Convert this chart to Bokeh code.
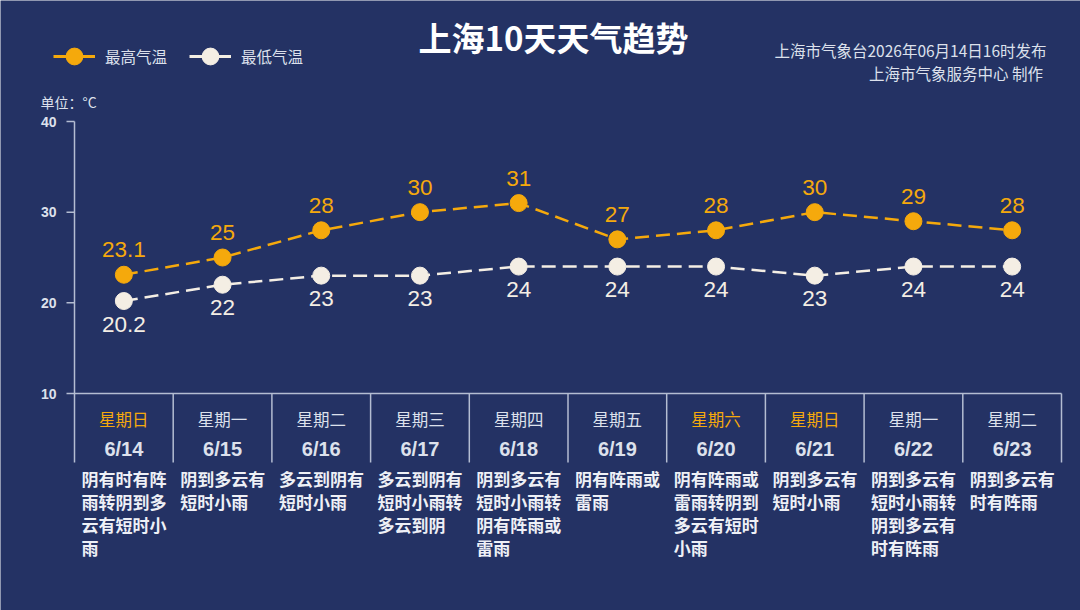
from bokeh.plotting import figure
from bokeh.models import Range1d, ColumnDataSource, Legend, LegendItem
from bokeh.core.properties import value
from bokeh.embed import file_html
from bokeh.resources import INLINE

# ---------------- data ----------------
weekdays = ["星期日", "星期一", "星期二", "星期三", "星期四", "星期五", "星期六", "星期日", "星期一", "星期二"]
dates = ["6/14", "6/15", "6/16", "6/17", "6/18", "6/19", "6/20", "6/21", "6/22", "6/23"]
high_temp = [23.1, 25, 28, 30, 31, 27, 28, 30, 29, 28]
low_temp = [20.2, 22, 23, 23, 24, 24, 24, 23, 24, 24]
high_text = ["23.1", "25", "28", "30", "31", "27", "28", "30", "29", "28"]
low_text = ["20.2", "22", "23", "23", "24", "24", "24", "23", "24", "24"]
weather = ["阴有时有阵雨转阴到多云有短时小雨", "阴到多云有短时小雨", "多云到阴有短时小雨",
           "多云到阴有短时小雨转多云到阴", "阴到多云有短时小雨转阴有阵雨或雷雨", "阴有阵雨或雷雨",
           "阴有阵雨或雷雨转阴到多云有短时小雨", "阴到多云有短时小雨",
           "阴到多云有短时小雨转阴到多云有时有阵雨", "阴到多云有时有阵雨"]
weekend = [True, False, False, False, False, False, True, True, False, False]
y_ticks = [10, 20, 30, 40]
y_tick_labels = ["10", "20", "30", "40"]
title_text = "上海10天天气趋势"
source_lines = ["上海市气象台2026年06月14日16时发布", "上海市气象服务中心  制作"]
unit_text = "单位：°C"
legend_labels = ["最高气温", "最低气温"]

# ---------------- styles ----------------
BG = "#243264"
ORANGE = "#f5a90c"
CREAM = "#f4eee4"
LIGHT = "#dde1ec"
GRID = "#b4bdd2"
CJK = "Noto Sans CJK SC"
NAN = float("nan")

# layout (pixels) of the plotting region inside the full canvas
L, T, B = 74, 121, 462
W, H = 1080, 610
col_px = 98.7
y_px = 9.067
y_top = 40


def dx(px):
    return -0.5 + (px - L) / col_px


def dy(py):
    return y_top - (py - T) / y_px


p = figure(width=W, height=H, output_backend="svg", toolbar_location=None, title=None,
           x_range=Range1d(dx(0), dx(W)), y_range=Range1d(dy(H), dy(0)),
           min_border=0, min_border_left=0, min_border_right=0, min_border_top=0,
           min_border_bottom=0, x_axis_type=None, y_axis_type=None)
p.background_fill_color = BG
p.border_fill_color = BG
p.outline_line_color = None
p.grid.visible = False

idx = list(range(len(dates)))
n = len(idx)
y_bottom = dy(B)
x_left = -0.5
x_right = n - 0.5

# y axis (line, ticks, labels) drawn from the tick list
p.segment(x0=[x_left], y0=[max(y_ticks)], x1=[x_left], y1=[y_bottom],
          line_color=GRID, line_width=1.5)
p.segment(x0=[dx(66)] * len(y_ticks), y0=y_ticks, x1=[x_left] * len(y_ticks), y1=y_ticks,
          line_color=GRID, line_width=1.5)
p.text(x=[x_left] * len(y_ticks), y=y_ticks, text=y_tick_labels, x_offset=-18,
       text_align="right", text_baseline="middle", text_color=LIGHT,
       text_font=value("Liberation Sans"), text_font_style="bold", text_font_size="14px")

# table lines
bounds = [i + 0.5 for i in idx]
p.segment(x0=[x_left], y0=[min(y_ticks)], x1=[x_right], y1=[min(y_ticks)],
          line_color=GRID, line_width=1.5)
p.segment(x0=bounds, y0=[min(y_ticks)] * n, x1=bounds, y1=[y_bottom] * n,
          line_color=GRID, line_width=1.5)

# header text
hdr = ColumnDataSource(dict(x=idx, wd=weekdays, dt=dates,
                            c=[ORANGE if w else LIGHT for w in weekend]))
p.text(x="x", y=dy(418), text="wd", source=hdr, text_color="c", text_align="center",
       text_baseline="middle", text_font=value(CJK), text_font_size="16.5px")
p.text(x="x", y=dy(448), text="dt", source=hdr, text_color=LIGHT, text_align="center",
       text_baseline="middle", text_font=value("Liberation Sans"), text_font_size="20px",
       text_font_style="bold")

# lines
p.line(idx, high_temp, line_color=ORANGE, line_width=2.5, line_dash="14 7")
p.scatter(idx, high_temp, size=17, fill_color=ORANGE, line_color=ORANGE)
p.line(idx, low_temp, line_color=CREAM, line_width=2.5, line_dash="14 7")
p.scatter(idx, low_temp, size=17, fill_color=CREAM, line_color=CREAM)

lab = ColumnDataSource(dict(x=idx, hi=high_temp, lo=low_temp, ht=high_text, lt=low_text))
p.text(x="x", y="hi", text="ht", source=lab, y_offset=-25, text_color=ORANGE,
       text_align="center", text_baseline="middle", text_font=value("Liberation Sans"),
       text_font_size="22.5px")
p.text(x="x", y="lo", text="lt", source=lab, y_offset=23, text_color=CREAM,
       text_align="center", text_baseline="middle", text_font=value("Liberation Sans"),
       text_font_size="22.5px")


# descriptions (wrapped every 5 characters)
def wrap(s, k=5):
    return "\n".join(s[j:j + k] for j in range(0, len(s), k))


desc = ColumnDataSource(dict(x=[i - 0.5 for i in idx], t=[wrap(s) for s in weather]))
p.text(x="x", y=dy(465), text="t", source=desc, x_offset=7,
       text_color="#eef0f6", text_font=value(CJK), text_font_size="17px",
       text_font_style="bold", text_baseline="top", text_align="left",
       text_line_height=0.93)

# title & captions
p.text(x=[dx(553)], y=[dy(36)], text=[title_text], text_align="center",
       text_baseline="middle", text_color="#ffffff", text_font=value(CJK),
       text_font_size="33px", text_font_style="bold")
p.text(x=[dx(1046)] * 2, y=[dy(49), dy(72)], text=source_lines, text_align="right",
       text_baseline="middle", text_color=LIGHT, text_font=value(CJK),
       text_font_size="15.5px")
p.text(x=[dx(40)], y=[dy(101)], text=[unit_text], text_align="left",
       text_baseline="middle", text_color=LIGHT, text_font=value(CJK),
       text_font_size="14px")

# legend proxies (solid line + big marker, as in the reference key); NaN = not drawn in plot
lg_h_line = p.line(x=[NAN], y=[NAN], line_color=ORANGE, line_width=3)
lg_h_mark = p.scatter(x=[NAN], y=[NAN], size=17, fill_color=ORANGE, line_color=ORANGE)
lg_l_line = p.line(x=[NAN], y=[NAN], line_color=CREAM, line_width=3)
lg_l_mark = p.scatter(x=[NAN], y=[NAN], size=17, fill_color=CREAM, line_color=CREAM)

legend = Legend(items=[LegendItem(label=legend_labels[0], renderers=[lg_h_line, lg_h_mark]),
                       LegendItem(label=legend_labels[1], renderers=[lg_l_line, lg_l_mark])],
                location=(53, H - 77), orientation="horizontal",
                glyph_width=42, glyph_height=42, label_height=42, label_standoff=10,
                spacing=22, padding=0, margin=0, border_line_color=None,
                background_fill_alpha=0, label_text_color=LIGHT, label_text_font=CJK,
                label_text_font_size="15.5px")
p.add_layout(legend)

open("out.html", "w").write(file_html(p, INLINE))
